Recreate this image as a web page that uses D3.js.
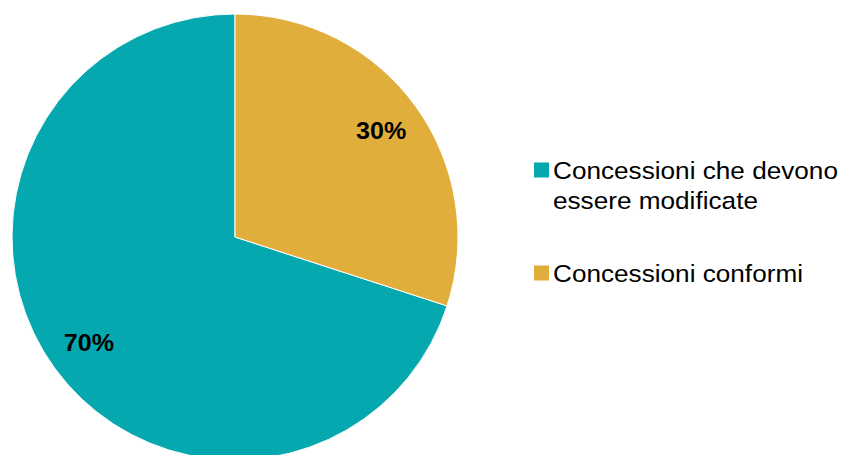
<!DOCTYPE html>
<html>
<head>
<meta charset="utf-8">
<script src="https://cdn.jsdelivr.net/npm/d3@7"></script>
<style>
  body { margin: 0; background: #fff; }
  text { font-family: "Liberation Sans", Arial, sans-serif; }
</style>
</head>
<body>
<div id="chart"></div>
<script>
var svgWidth = 846;
var svgHeight = 455;

// data
var categories = ["Concessioni che devono essere modificate", "Concessioni conformi"];
var values = [70, 30];
var colors = ["#06A8B0", "#E1AE3C"];
var legendLines = [["Concessioni che devono", "essere modificate"], ["Concessioni conformi"]];

var cx = 235, cy = 237, radius = 223;
var stretch = 1.09; // text in the picture is a bit wide

var svg = d3.select("#chart")
    .append("svg")
    .attr("width", svgWidth)
    .attr("height", svgHeight);

var pieData = categories.map(function(c, i) {
    return { name: c, value: values[i], color: colors[i] };
});

// teal starts where the gold ends, gold ends at 12 o'clock
var pie = d3.pie()
    .value(function(d) { return d.value; })
    .sort(null)
    .startAngle(0.3 * 2 * Math.PI)
    .endAngle(1.3 * 2 * Math.PI);

var arc = d3.arc().innerRadius(0).outerRadius(radius);
var labelArc = d3.arc().innerRadius(radius * 0.81).outerRadius(radius * 0.81);

var pieGroup = svg.append("g")
    .attr("transform", `translate(${cx}, ${cy})`);

var arcs = pie(pieData);

pieGroup.selectAll("path")
    .data(arcs)
    .enter()
    .append("path")
    .attr("d", arc)
    .attr("fill", function(d) { return d.data.color; })
    .attr("stroke", "#fff")
    .attr("stroke-width", 1);

var total = d3.sum(values);
pieGroup.selectAll(".lbl")
    .data(arcs)
    .enter()
    .append("text")
    .attr("class", "lbl")
    .attr("transform", function(d) { return `translate(${labelArc.centroid(d)}) scale(${stretch},1)`; })
    .attr("text-anchor", "middle")
    .attr("dy", "0.36em")
    .attr("font-size", 23)
    .attr("font-weight", "bold")
    .attr("fill", "#000")
    .text(function(d) { return Math.round(d.data.value / total * 100) + "%"; });

// legend
var legendY = [170, 273];
var legend = svg.append("g");
pieData.forEach(function(d, i) {
    var g = legend.append("g").attr("transform", `translate(534, ${legendY[i]})`);
    g.append("rect")
        .attr("x", 0)
        .attr("y", -7.5)
        .attr("width", 15)
        .attr("height", 15)
        .attr("fill", d.color);
    legendLines[i].forEach(function(line, j) {
        g.append("text")
            .attr("transform", `translate(19, ${9 + j * 30}) scale(${stretch},1)`)
            .attr("font-size", 24)
            .attr("fill", "#000")
            .text(line);
    });
});
</script>
</body>
</html>
